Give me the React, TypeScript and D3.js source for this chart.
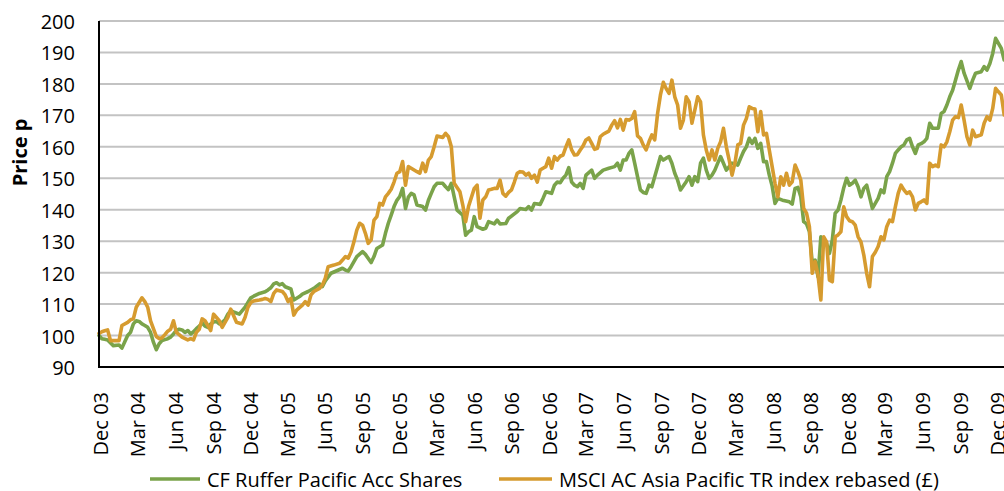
import React from "react";
import * as d3 from "d3";

const tickLabels = [
  "Dec 03", "Mar 04", "Jun 04", "Sep 04", "Dec 04", "Mar 05", "Jun 05", "Sep 05", "Dec 05",
  "Mar 06", "Jun 06", "Sep 06", "Dec 06", "Mar 07", "Jun 07", "Sep 07", "Dec 07",
  "Mar 08", "Jun 08", "Sep 08", "Dec 08", "Mar 09", "Jun 09", "Sep 09", "Dec 09",
];
const yTicks = [90, 100, 110, 120, 130, 140, 150, 160, 170, 180, 190, 200];
const startDate = "2003-12-01";
const seriesNames = ["CF Ruffer Pacific Acc Shares", "MSCI AC Asia Pacific TR index rebased (£)"];
const seriesColors = ["#7aa34a", "#d69b2f"];

// [weeks since start, price]
const rufferSeries: [number, number][] = [
  [0,100],[1,99],[2,98.8],[3,98.6],[5,96.8],[7,97],[8,96],[9,98],[10,100],[11,101],[12,103.7],[13,104.7],[14,104.5],[15,103.7],[16,103.2],[17,102.6],[18,101],[19,97.9],[20,95.5],[21,97.4],[22,98.4],[23,98.7],[24,99],[25,99.5],[26,100.5],[27,101.6],[28,102],[29,101.8],[30,101],[31,101.6],[32,100.5],[33,101.2],[34,102.2],[35,103],[36,104],[37,103],[38,102.6],[39,103.7],[40,104.3],[41,104.5],[42,103.7],[43,104.2],[44,105],[45,106.8],[46,107.9],[47,107.5],[49,106.8],[50,107.9],[51,109],[52,110.5],[53,112],[54,112.5],[56,113.4],[58,113.9],[59,114.5],[60,115.2],[61,116.4],[62,116.8],[63,116.1],[64,116.5],[65,115.5],[67,114.8],[68,111.3],[70,112.4],[71,113.2],[73,114],[75,115],[77,116.4],[78,115.6],[79,117.4],[81,119.8],[83,120.6],[85,121.4],[86,120.8],[87,120.5],[88,121.9],[90,125.1],[92,126.7],[93,125.8],[95,123.2],[96,125.1],[97,127.7],[99,128.8],[100,132.5],[101,135.7],[102,138.3],[103,141],[104,143],[105,144.2],[106,146.8],[107,140.4],[108,144],[109,145.2],[110,144.7],[111,141.5],[113,141],[114,139.9],[115,143],[116,145.2],[117,147.3],[118,148.4],[120,148.4],[121,147.3],[122,146.4],[123,148.4],[124,144.1],[125,139.9],[127,138.3],[128,131.9],[129,133],[130,133.5],[131,137.8],[132,134.6],[134,133.8],[135,134.1],[136,136.2],[138,135.5],[139,136.7],[140,135.5],[142,135.6],[143,137.3],[146,139.4],[147,140.4],[149,140.1],[150,141],[151,139.9],[152,142],[154,141.7],[155,143.6],[156,145.7],[157,145.5],[158,145.2],[159,147.8],[160,148.8],[161,148.6],[162,150],[163,151],[164,153.4],[165,148.8],[166,147.8],[167,147.3],[168,148.4],[169,146.8],[170,151],[172,152.6],[173,150],[174,151],[176,152.6],[178,153.2],[180,153.7],[181,154.8],[182,152.6],[183,155.8],[184,155.8],[185,157.9],[186,159],[187,154.8],[188,150.5],[189,146.3],[190,145.5],[191,145.2],[192,147.8],[193,147.3],[195,153.7],[196,156.9],[197,155.8],[198,156.4],[199,156.9],[200,154.8],[201,151.6],[202,149.4],[203,146.3],[205,148.9],[206,150.5],[207,147.8],[208,150.5],[209,148.9],[210,154.8],[211,156.4],[212,152.6],[213,150],[214,151],[215,152.6],[216,154.8],[217,156.9],[218,154.8],[219,152.6],[220,153.7],[221,154.8],[222,154.6],[223,154.2],[224,156.4],[225,158.5],[226,160],[227,162.7],[228,161.1],[229,162.7],[230,159.5],[231,161.1],[232,155.3],[233,155.3],[234,151],[235,147.5],[236,142],[237,143.6],[239,142.9],[241,142.5],[242,141.8],[243,146.8],[244,147.1],[245,144.1],[246,136.2],[247,135.5],[248,133],[249,123],[250,124],[251,118.7],[252,131.4],[253,130.4],[254,129.3],[255,126.1],[256,130.4],[257,138.9],[258,139.9],[259,143.1],[260,147],[261,150],[262,147.8],[263,148.4],[264,149.4],[265,147.3],[266,144.1],[267,146.8],[268,147.8],[269,144.1],[270,140.4],[271,142],[272,143.6],[273,146.3],[274,145.4],[275,150.5],[276,152.1],[277,154.8],[278,157.9],[279,159],[280,160],[281,160.6],[282,162.2],[283,162.7],[284,160],[285,157.9],[286,160.6],[287,161],[288,161.6],[289,162.7],[290,167.5],[291,165.9],[292,165.9],[293,165.9],[294,170.6],[295,171.2],[296,173.3],[297,175.9],[298,178],[299,181.2],[300,184.4],[301,187.1],[302,183.4],[304,178.6],[305,181.2],[306,183.4],[308,183.9],[309,185.5],[310,184.4],[311,186.5],[312,189.7],[313,194.5],[314,192.9],[315,191.3],[316,187.6],
];

const msciSeries: [number, number][] = [
  [0,100.7],[1,101.2],[2,101.5],[3,101.8],[4,98.4],[6,98.4],[7,98.4],[8,103.2],[10,104.2],[11,105],[12,105.3],[13,109],[14,110.5],[15,112],[16,110.8],[17,109],[18,104.7],[20,99.7],[21,99],[22,99.3],[23,100.3],[24,101.4],[25,102],[26,104.7],[27,101],[28,100.3],[29,99.5],[31,98.6],[32,99],[33,98.6],[34,101],[35,102],[36,105.3],[37,104.7],[38,103.2],[39,101.6],[40,106.8],[42,104.7],[43,102.6],[44,104.2],[45,105.8],[46,108.4],[47,106.3],[48,104.2],[50,103.7],[51,105.8],[52,109],[53,110.5],[54,111],[56,111.3],[57,111.5],[58,111.8],[59,111.5],[60,110.8],[61,113.4],[62,114.5],[64,114],[65,112.9],[66,110.8],[67,111.8],[68,106.5],[69,108.1],[71,109.7],[72,110.8],[73,109.7],[74,112.9],[75,114],[77,115],[78,116.1],[79,118.2],[80,121.9],[82,122.4],[84,123],[85,124],[86,125.1],[87,124.6],[88,126.6],[89,129.8],[90,133.5],[91,135.7],[92,135.1],[93,132.5],[94,129.3],[95,130.4],[96,136.7],[97,137.8],[98,142],[99,141.5],[100,144.1],[101,145.2],[102,146.5],[103,148.8],[104,151.6],[105,152.1],[106,155.3],[107,147.8],[108,153.7],[109,153.2],[111,152.1],[112,151.6],[113,154.8],[114,152.1],[115,155.8],[116,156.9],[117,160],[118,163.4],[120,163],[121,164.3],[122,163.2],[123,160],[124,148.4],[126,145.7],[127,141.5],[128,136.2],[129,141],[131,146.8],[132,147.8],[133,137.3],[134,143.1],[135,144.1],[136,146.3],[137,146.5],[138,146.8],[139,146.8],[140,149.4],[141,145.2],[142,144.3],[143,145.5],[144,146.3],[145,148.8],[146,151.6],[147,152.1],[148,152],[149,151],[150,151.6],[151,150],[152,151],[153,148.8],[154,152.6],[155,153.2],[156,153.7],[157,156.4],[158,153.2],[159,156.9],[160,155.8],[161,157],[162,157.4],[163,160],[164,162.2],[165,159],[166,157.4],[167,157.5],[168,159],[169,160.3],[170,162.2],[171,162.8],[172,161.1],[173,159.2],[174,159.5],[175,163.2],[176,164],[177,164.5],[178,165],[179,166.9],[180,168.3],[181,166],[182,168.7],[183,165.3],[184,168.7],[185,168.5],[186,169],[187,171.2],[188,163.5],[189,162.7],[190,160.6],[191,159],[192,161.6],[193,163.8],[194,162.2],[195,170.6],[196,176.5],[197,180.5],[198,178.5],[199,177],[200,181.2],[201,175.9],[202,173.3],[203,165.9],[204,168.5],[205,175.9],[206,174.3],[207,167.5],[208,171.7],[209,175.9],[210,174.3],[211,163.8],[212,159],[213,155.8],[214,159],[215,155.8],[216,159.5],[217,161.6],[218,165.9],[219,160],[220,155.8],[221,151],[222,154.8],[223,160.6],[224,161.1],[225,166.9],[226,169],[227,172.7],[228,172.2],[229,172],[230,164.8],[231,171.2],[232,163.8],[233,164.3],[234,159],[235,153.7],[236,148.4],[237,144.1],[238,150.5],[239,147.8],[240,151.6],[241,147.8],[242,148.9],[243,154.2],[244,152.1],[245,149.4],[246,140.4],[247,138.9],[248,134.6],[249,119.8],[250,123.5],[251,119.2],[252,111.3],[253,131.4],[254,129.8],[255,117.6],[256,117.1],[257,131.4],[258,132],[259,133],[260,140.9],[261,137.8],[262,136.5],[263,136.2],[264,135.1],[265,131.4],[266,129.8],[267,125.6],[268,119.8],[269,115.5],[270,125.1],[271,126.5],[272,128.3],[273,131.4],[274,130.4],[275,134.6],[276,136.7],[277,136.2],[278,140.9],[279,145.2],[280,147.8],[281,146.3],[282,145.2],[283,145.7],[284,144.1],[285,139.9],[286,142],[287,142.5],[288,143.1],[289,142],[290,154.8],[291,153.7],[292,154.2],[293,153.7],[294,160.6],[295,160],[296,161.6],[297,164.8],[298,168.5],[299,169.6],[300,169.3],[301,173.3],[302,168.5],[303,163.2],[304,160.6],[305,165.3],[306,163.2],[307,163.5],[308,163.8],[309,167.5],[310,169.6],[311,168.5],[312,172.2],[313,178.6],[314,177.5],[315,176.5],[316,170.1],
];

const W = 1004;
const H = 491;
const FONT = "'Open Sans', 'Noto Sans', sans-serif";

export default function App() {
  const parseTick = d3.timeParse("%b %y");
  const start = d3.timeParse("%Y-%m-%d")(startDate) as Date;
  const tickDates = tickLabels.map((l) => parseTick(l) as Date);
  const left = 99;
  const top = 21;
  const bottom = 367;
  const x = d3
    .scaleTime()
    .domain([tickDates[0], tickDates[tickDates.length - 1]])
    .range([left, 996]);
  const y = d3.scaleLinear().domain([90, 200]).range([bottom, top]);
  const toDate = (w: number) => d3.timeDay.offset(start, Math.round(w * 7));
  const line = d3
    .line<[number, number]>()
    .x((d) => x(toDate(d[0])))
    .y((d) => y(d[1]));
  const series = [rufferSeries, msciSeries];

  return (
    <svg
      width={W}
      height={H}
      style={{ position: "absolute", left: 0, top: 0, background: "#fff" }}
      fontFamily={FONT}
    >
      <rect x={0} y={0} width={W} height={H} fill="#fff" />
      {yTicks.map((t) => (
        <line key={"g" + t} x1={left} x2={W} y1={y(t)} y2={y(t)} stroke="#c3c3c3" strokeWidth={2} />
      ))}
      {yTicks.map((t) => (
        <text key={"yl" + t} x={75} y={y(t)} dy="0.4em" textAnchor="end" fontSize={20} fill="#000">
          {t}
        </text>
      ))}
      <text
        transform={`translate(27,152.5) rotate(-90)`}
        textAnchor="middle"
        fontSize={20}
        fontWeight="bold"
        fill="#000"
      >
        Price p
      </text>
      {tickDates.map((d, i) => (
        <text
          key={"xl" + i}
          transform={`translate(${x(d) + 2},392) rotate(-90)`}
          dy="0.35em"
          textAnchor="end"
          fontSize={20}
          fill="#000"
        >
          {tickLabels[i]}
        </text>
      ))}
      {series.map((s, i) => (
        <path
          key={"s" + i}
          d={line(s) || ""}
          fill="none"
          stroke={seriesColors[i]}
          strokeWidth={3.6}
          strokeLinejoin="round"
          strokeLinecap="round"
        />
      ))}
      <line x1={left} x2={left} y1={top} y2={bottom + 1} stroke="#000" strokeWidth={2} />
      <line x1={left - 1} x2={W} y1={bottom} y2={bottom} stroke="#000" strokeWidth={2} />
      <g>
        <line x1={150} x2={200} y1={479} y2={479} stroke={seriesColors[0]} strokeWidth={3.6} />
        <text x={207} y={480} dy="0.35em" fontSize={20} fill="#000">
          {seriesNames[0]}
        </text>
        <line x1={499} x2={552} y1={479} y2={479} stroke={seriesColors[1]} strokeWidth={3.6} />
        <text x={559} y={480} dy="0.35em" fontSize={20} fill="#000">
          {seriesNames[1]}
        </text>
      </g>
    </svg>
  );
}
